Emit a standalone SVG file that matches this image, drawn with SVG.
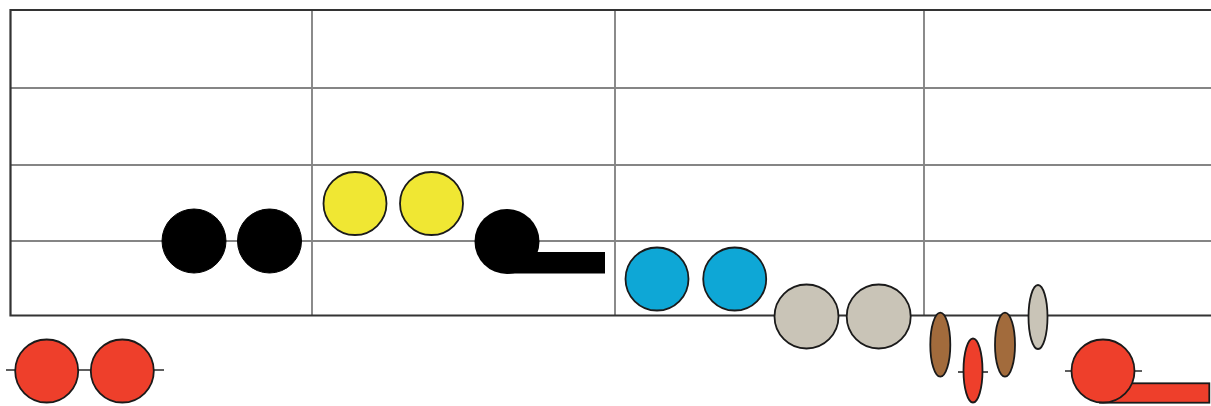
<svg xmlns="http://www.w3.org/2000/svg" width="1211" height="406" viewBox="0 0 1211 406">
<style>
.grid{stroke:#858585;stroke-width:1.9;fill:none}
.border{stroke:#333;stroke-width:2.2;fill:none}
.bar{stroke:#2a2a2a;stroke-width:1.6}
.n{stroke:#1a1a1a;stroke-width:1.8}
.red{fill:#ee3f2b}
.yel{fill:#f0e733}
.blu{fill:#0ea7d6}
.gry{fill:#c9c4b7}
.brn{fill:#a26b3c}
.blk{fill:#000;stroke:#000}
</style>
<rect width="1211" height="406" fill="#fff"/>
<g id="grid">
<line class="grid" x1="10" y1="88" x2="1211" y2="88"/>
<line class="grid" x1="10" y1="165" x2="1211" y2="165"/>
<line class="grid" x1="10" y1="241" x2="1211" y2="241"/>
<line class="grid" x1="312" y1="10" x2="312" y2="316"/>
<line class="grid" x1="615" y1="10" x2="615" y2="316"/>
<line class="grid" x1="924" y1="10" x2="924" y2="316"/>
<path class="border" d="M1212,10 H10.5 V315.5 H1212"/>
</g>
<g id="connectors">
<line class="bar" x1="6" y1="370" x2="164" y2="370"/>
<line class="bar" x1="958" y1="372" x2="988" y2="372"/>
<line class="bar" x1="1065" y1="371" x2="1142" y2="371"/>
</g>
<g id="black-pair">
<circle class="blk" cx="194" cy="241" r="32"/>
<circle class="blk" cx="269.5" cy="241" r="32"/>
</g>
<g id="yellow-pair">
<circle class="n yel" cx="355" cy="203.5" r="31.5"/>
<circle class="n yel" cx="431.5" cy="203.5" r="31.5"/>
</g>
<g id="black-tail">
<rect x="507" y="252" width="98" height="21.5" fill="#000"/>
<circle cx="507" cy="241.5" r="32.5" fill="#000"/>
</g>
<g id="blue-pair">
<circle class="n blu" cx="657" cy="279" r="31.5"/>
<circle class="n blu" cx="734.7" cy="279" r="31.5"/>
</g>
<g id="gray-pair">
<circle class="n gry" cx="806.5" cy="316.5" r="32"/>
<circle class="n gry" cx="878.7" cy="316.5" r="32"/>
</g>
<g id="brown-1">
<ellipse class="n brn" cx="940.3" cy="344.7" rx="10" ry="32"/>
</g>
<g id="red-ellipse">
<ellipse class="n red" cx="973" cy="370.5" rx="9.5" ry="32"/>
</g>
<g id="brown-2">
<ellipse class="n brn" cx="1005" cy="344.7" rx="10" ry="32"/>
</g>
<g id="gray-ellipse">
<ellipse class="n gry" cx="1038" cy="317" rx="9.5" ry="32"/>
</g>
<g id="red-pair">
<circle class="n red" cx="46.7" cy="371" r="31.5"/>
<circle class="n red" cx="122.3" cy="371" r="31.5"/>
</g>
<g id="red-tail">
<rect class="n red" x="1100" y="383.3" width="109.3" height="19.4"/>
<circle class="n red" cx="1103" cy="371" r="31.5"/>
</g>
</svg>
